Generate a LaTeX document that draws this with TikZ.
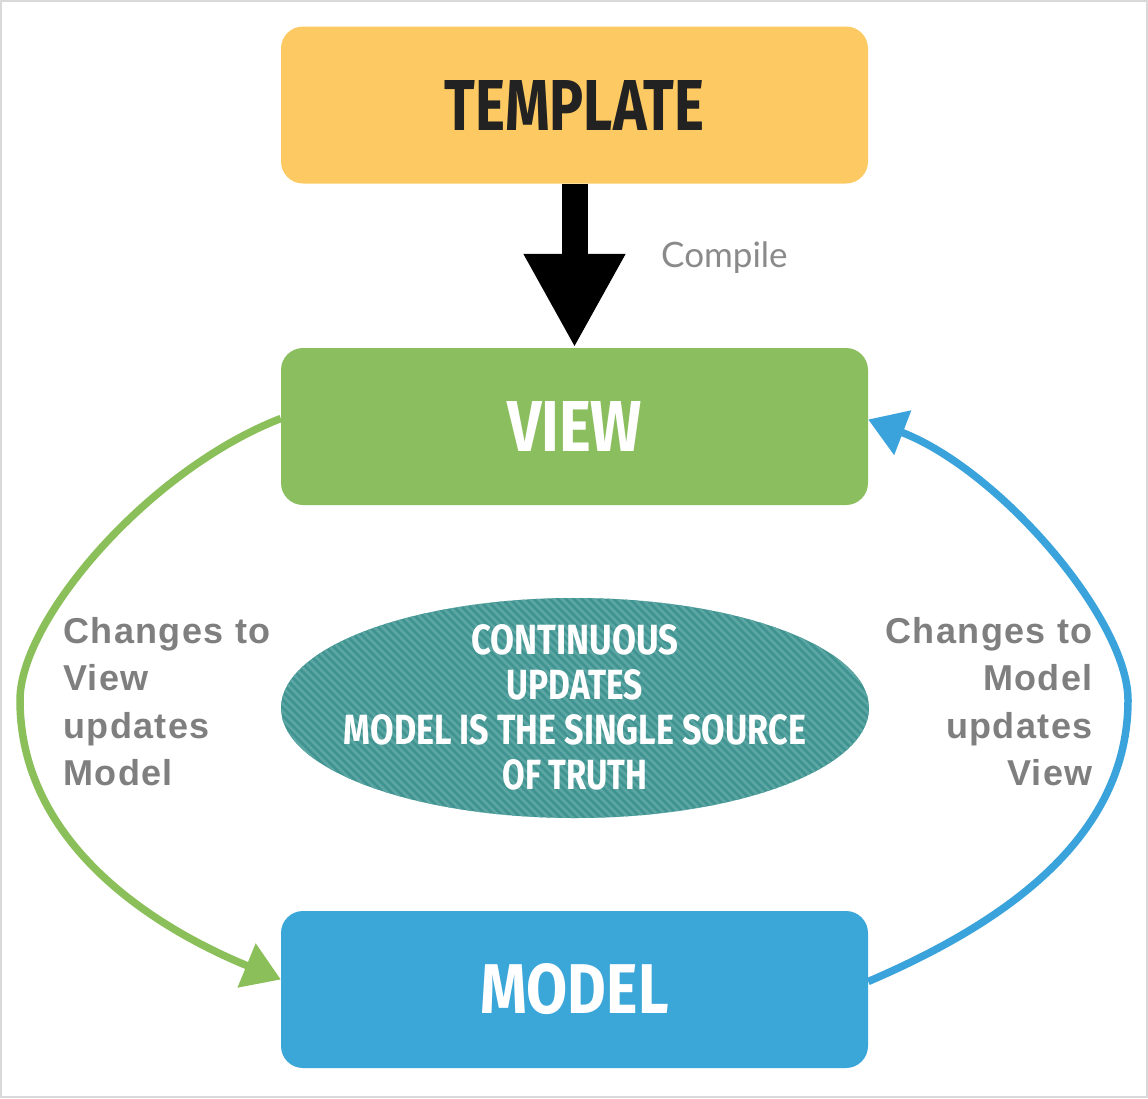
\documentclass[tikz,border=0pt]{standalone}
\usepackage{fontspec}
\usepackage{graphicx}
\setmainfont{Liberation Sans}
\newfontfamily\headf{Fira Sans}
\newfontfamily\lightf{Lato}
\usetikzlibrary{arrows.meta,shapes.geometric}
\definecolor{tplc}{HTML}{FDC962}
\definecolor{viewc}{HTML}{8BBE5F}
\definecolor{modelc}{HTML}{3BA6D8}
\definecolor{tealc}{HTML}{3F9390}
\definecolor{stripec}{HTML}{5CA7A4}
\definecolor{greenarr}{HTML}{8BBF5A}
\definecolor{bluearr}{HTML}{3BA3DB}
\definecolor{labelc}{HTML}{7F7F7F}
\definecolor{compc}{HTML}{8A8A8A}
\definecolor{darktext}{HTML}{222222}
\newcommand{\fitbox}[3]{\resizebox{#1pt}{#2pt}{#3}}
\begin{document}
\begin{tikzpicture}[x=1pt,y=-1pt,
  bigbox/.style={rounded corners=22pt, inner sep=0pt, minimum width=587pt, minimum height=157pt, font=\headf\bfseries},
  sidelabel/.style={font=\fontsize{36}{47.4}\selectfont\bfseries\addfontfeatures{LetterSpace=4}, text=labelc, inner sep=0pt},
  loop/.style={line width=7.5pt, -{Triangle[length=37pt,width=46pt]}},
  ovaltext/.style={font=\headf\bfseries, text=white, inner sep=0pt}
]
\useasboundingbox (0,0) rectangle (1148,1098);
\draw[black!15, line width=2pt] (1,1) rectangle (1147,1097);

% boxes
\node[bigbox, fill=tplc, text=darktext] (template) at (574.5,105) {\fitbox{260}{50}{TEMPLATE}};
\node[bigbox, fill=viewc, text=white] (view) at (574.5,426.5) {\fitbox{135}{50}{VIEW}};
\node[bigbox, fill=modelc, text=white] (model) at (574.5,989.5) {\fitbox{188}{50}{MODEL}};

% striped ellipse
\node[ellipse, inner sep=0pt, minimum width=588pt, minimum height=220pt, fill=tealc,
  path picture={
    \foreach \i in {-55,...,55}
      \draw[stripec, line width=2.8pt] (\i*8-260pt, 260pt) -- ++(520pt,-520pt);
  }] (truth) at (575,708) {};
\node[ovaltext] (t1) at (575,640) {\fitbox{207}{30}{CONTINUOUS}};
\node[ovaltext] (t2) at (575,685) {\fitbox{136}{30}{UPDATES}};
\node[ovaltext] (t3) at (575,730) {\fitbox{462}{30}{MODEL IS THE SINGLE SOURCE}};
\node[ovaltext] (t4) at (575,775) {\fitbox{145}{30}{OF TRUTH}};

% compile arrow
\draw[black, line width=26pt, -{Triangle[length=94pt,width=95pt]}] (template.south) -- (view.north);
\node[font=\lightf\fontsize{35}{40}\selectfont, text=compc, anchor=west, inner sep=0pt] (compile) at (661,258) {Compile};

% side labels
\node[sidelabel, align=left, anchor=north west] (leftlab) at (63,617) {Changes to\\View\\updates\\Model};
\node[sidelabel, align=right, anchor=north east] (rightlab) at (1093,617) {Changes to\\Model\\updates\\View};

% loop arrows
\draw[loop, greenarr] ([yshift=8pt]view.west) .. controls (148,470) and (20,620) .. (20,700)
  .. controls (20,840) and (148,925) .. ([yshift=10pt]model.west);
\draw[loop, bluearr] ([yshift=8pt]model.east) .. controls (1000,925) and (1128,840) .. (1128,700)
  .. controls (1128,620) and (1000,470) .. ([yshift=7pt]view.east);
\end{tikzpicture}
\end{document}
